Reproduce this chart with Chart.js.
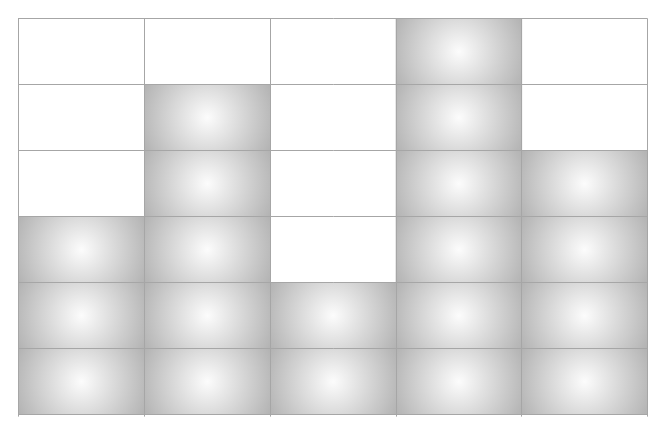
<!DOCTYPE html>
<html>
<head>
<meta charset="utf-8">
<script src="https://cdn.jsdelivr.net/npm/chart.js@4/dist/chart.umd.min.js"></script>
<style>
html,body{margin:0;padding:0;background:#fff;}
#wrap{width:666px;height:443px;}
</style>
</head>
<body>
<div id="wrap"><canvas id="c" width="666" height="443"></canvas></div>
<script>
const categories = ['A', 'B', 'C', 'D', 'E'];
const values = [3, 5, 2, 6, 4];
const maxLevel = 6;

function cellGradient(ctx) {
  const chart = ctx.chart;
  const area = chart.chartArea;
  if (!area || !chart.scales.x || !chart.scales.y) return '#d0d0d0';
  const xs = chart.scales.x, ys = chart.scales.y;
  const cx = xs.getPixelForValue(ctx.dataIndex);
  const hw = (area.right - area.left) / categories.length / 2;
  const k = ctx.datasetIndex;
  const yTop = ys.getPixelForValue(k + 1), yBot = ys.getPixelForValue(k);
  const cy = (yTop + yBot) / 2;
  const hh = Math.abs(yBot - yTop) / 2;
  const r = Math.sqrt(hw * hw + hh * hh);
  const g = chart.ctx.createRadialGradient(cx, cy, 0, cx, cy, r);
  g.addColorStop(0, '#fcfcfc');
  g.addColorStop(1, '#b2b2b2');
  return g;
}

const datasets = [];
for (let k = 0; k < maxLevel; k++) {
  datasets.push({
    data: values.map(v => (v > k ? 1 : 0)),
    backgroundColor: cellGradient,
    borderWidth: 0,
    barPercentage: 1,
    categoryPercentage: 1,
    stack: 's'
  });
}

new Chart(document.getElementById('c'), {
  type: 'bar',
  data: { labels: categories, datasets },
  options: {
    responsive: false,
    animation: false,
    layout: { padding: { left: 18.6, top: 18.6, right: 18.4, bottom: 26.4 } },
    plugins: { legend: { display: false }, tooltip: { enabled: false } },
    scales: {
      x: {
        stacked: true,
        ticks: { display: false, z: 1 },
        grid: { color: '#a6a6a6', offset: true, drawTicks: true, tickLength: 2, z: 1 },
        border: { color: '#a6a6a6', z: 1 }
      },
      y: {
        stacked: true,
        min: 0,
        max: maxLevel,
        ticks: { display: false, stepSize: 1, z: 1 },
        grid: { color: '#a6a6a6', drawTicks: false, z: 1 },
        border: { color: '#a6a6a6', z: 1 }
      }
    }
  }
});
</script>
</body>
</html>
